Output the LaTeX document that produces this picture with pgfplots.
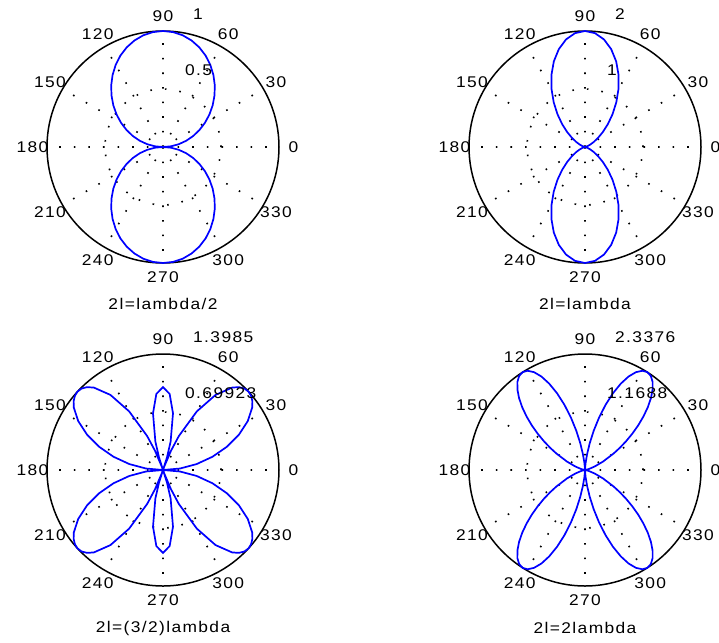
\documentclass[border=0pt]{standalone}
\usepackage{fontspec}
\setmainfont{Liberation Sans}[FakeStretch=1.12,LetterSpace=9]
\usepackage{pgfplots}
\pgfplotsset{compat=1.18}
\usepgfplotslibrary{polar}
\newcommand{\lbl}{\fontsize{15.5bp}{18bp}\selectfont}
\pgfplotsset{mpolar/.style={
  scale only axis, width=232bp, height=232bp,
  anchor=center,
  xmin=0, xmax=360, ymin=0,
  xtick={0,30,...,330}, xticklabels={},
  yticklabels={},
  grid=major,
  major grid style={black, line width=1.6bp, dash pattern=on 1.6bp off 13bp},
  separate axis lines,
  x axis line style={black, line width=1.5bp},
  y axis line style={draw=none},
  major tick length=0pt,
  clip=false,
}}
\newcommand{\anglabels}[1]{\pgfplotsinvokeforeach{0,30,...,330}{\node[font=\lbl, inner sep=0pt] at (axis cs:##1,#1) {##1};}}
\newcommand{\ringlabels}[2]{%
  \node[font=\lbl, anchor=west, inner sep=0pt] at ([xshift=30bp,yshift=133bp]axis cs:0,0) {#1};
  \node[font=\lbl, anchor=west, inner sep=0pt] at ([xshift=22bp,yshift=77bp]axis cs:0,0) {#2};}
\begin{document}
\begin{tikzpicture}
\path[use as bounding box] (0,0) rectangle (719bp,-643bp);
% plot 1
\begin{polaraxis}[mpolar, at={(163bp,-147bp)}, ymax=1, ytick={0.5}]
\addplot[blue, line width=1.7bp] coordinates {(0,0)(5,0.0686)(10,0.1374)(15,0.2067)(20,0.2766)(25,0.3470)(30,0.4178)(35,0.4887)(40,0.5590)(45,0.6279)(50,0.6946)(55,0.7578)(60,0.8165)(65,0.8693)(70,0.9143)(75,0.9507)(80,0.9779)(85,0.9944)(90,1.0000)
(95,0.9944)(100,0.9779)(105,0.9507)(110,0.9143)(115,0.8693)(120,0.8165)(125,0.7578)(130,0.6946)(135,0.6279)(140,0.5590)(145,0.4887)(150,0.4178)(155,0.3470)(160,0.2766)(165,0.2067)(170,0.1374)(175,0.0686)(180,0)
(185,0.0686)(190,0.1374)(195,0.2067)(200,0.2766)(205,0.3470)(210,0.4178)(215,0.4887)(220,0.5590)(225,0.6279)(230,0.6946)(235,0.7578)(240,0.8165)(245,0.8693)(250,0.9143)(255,0.9507)(260,0.9779)(265,0.9944)(270,1.0000)
(275,0.9944)(280,0.9779)(285,0.9507)(290,0.9143)(295,0.8693)(300,0.8165)(305,0.7578)(310,0.6946)(315,0.6279)(320,0.5590)(325,0.4887)(330,0.4178)(335,0.3470)(340,0.2766)(345,0.2067)(350,0.1374)(355,0.0686)(360,0)};
\anglabels{1.125}
\ringlabels{1}{0.5}
\end{polaraxis}
% plot 2
\begin{polaraxis}[mpolar, at={(585bp,-147bp)}, ymax=2, ytick={1}]
\addplot[blue, line width=1.7bp] coordinates {(0,0)(5,0.0008)(10,0.0066)(15,0.0221)(20,0.0523)(25,0.1018)(30,0.1746)(35,0.2739)(40,0.4017)(45,0.5576)(50,0.7391)(55,0.9409)(60,1.1547)(65,1.3699)(70,1.5711)(75,1.7459)(80,1.8834)(85,1.9703)(90,2)
(95,1.9703)(100,1.8834)(105,1.7459)(110,1.5711)(115,1.3699)(120,1.1547)(125,0.9409)(130,0.7391)(135,0.5576)(140,0.4017)(145,0.2739)(150,0.1746)(155,0.1018)(160,0.0523)(165,0.0221)(170,0.0066)(175,0.0008)(180,0)
(185,0.0008)(190,0.0066)(195,0.0221)(200,0.0523)(205,0.1018)(210,0.1746)(215,0.2739)(220,0.4017)(225,0.5576)(230,0.7391)(235,0.9409)(240,1.1547)(245,1.3699)(250,1.5711)(255,1.7459)(260,1.8834)(265,1.9703)(270,2)
(275,1.9703)(280,1.8834)(285,1.7459)(290,1.5711)(295,1.3699)(300,1.1547)(305,0.9409)(310,0.7391)(315,0.5576)(320,0.4017)(325,0.2739)(330,0.1746)(335,0.1018)(340,0.0523)(345,0.0221)(350,0.0066)(355,0.0008)(360,0)};
\anglabels{2.25}
\ringlabels{2}{1}
\end{polaraxis}
% plot 3
\begin{polaraxis}[mpolar, at={(163bp,-470bp)}, ymax=1.3985, ytick={0.69923}]
\addplot[blue, line width=1.7bp] coordinates {(0,0)(5,0.2060)(10,0.4119)(15,0.6177)(20,0.8198)(25,1.0111)(30,1.1805)(35,1.3125)(37.5,1.3584)(40,1.3881)(42.5,1.3990)(45,1.3885)(47.5,1.3551)(50,1.2972)(55,1.1053)(60,0.8165)(65,0.4507)(67.5,0.2494)(70,0.0435)(70.53,0)(72.5,0.1605)(75,0.3561)(80,0.6940)(85,0.9203)(90,1)
(95,0.9203)(100,0.6940)(105,0.3561)(107.5,0.1605)(109.47,0)(110,0.0435)(112.5,0.2494)(115,0.4507)(120,0.8165)(125,1.1053)(130,1.2972)(132.5,1.3551)(135,1.3885)(137.5,1.3990)(140,1.3881)(142.5,1.3584)(145,1.3125)(150,1.1805)(155,1.0111)(160,0.8198)(165,0.6177)(170,0.4119)(175,0.2060)(180,0)
(185,0.2060)(190,0.4119)(195,0.6177)(200,0.8198)(205,1.0111)(210,1.1805)(215,1.3125)(217.5,1.3584)(220,1.3881)(222.5,1.3990)(225,1.3885)(227.5,1.3551)(230,1.2972)(235,1.1053)(240,0.8165)(245,0.4507)(247.5,0.2494)(250,0.0435)(250.53,0)(252.5,0.1605)(255,0.3561)(260,0.6940)(265,0.9203)(270,1)
(275,0.9203)(280,0.6940)(285,0.3561)(287.5,0.1605)(289.47,0)(290,0.0435)(292.5,0.2494)(295,0.4507)(300,0.8165)(305,1.1053)(310,1.2972)(312.5,1.3551)(315,1.3885)(317.5,1.3990)(320,1.3881)(322.5,1.3584)(325,1.3125)(330,1.1805)(335,1.0111)(340,0.8198)(345,0.6177)(350,0.4119)(355,0.2060)(360,0)};
\anglabels{1.5733}
\ringlabels{1.3985}{0.69923}
\end{polaraxis}
% plot 4
\begin{polaraxis}[mpolar, at={(585bp,-470bp)}, ymax=2.3376, ytick={1.1688}]
\addplot[blue, line width=1.7bp] coordinates {(0,0)(5,0.0033)(10,0.0262)(15,0.0882)(20,0.2074)(25,0.3983)(30,0.6677)(32.5,0.8309)(35,1.0097)(37.5,1.2009)(40,1.3995)(42.5,1.5978)(45,1.7907)(47.5,1.9674)(50,2.1191)(52.5,2.2382)(55,2.3131)(57.5,2.3390)(60,2.3094)(62.5,2.2224)(65,2.0795)(67.5,1.8831)(70,1.6448)(72.5,1.3770)(75,1.0925)(77.5,0.8097)(80,0.5467)(82.5,0.3206)(85,0.1468)(87.5,0.0374)(90,0)
(92.5,0.0374)(95,0.1468)(97.5,0.3206)(100,0.5467)(102.5,0.8097)(105,1.0925)(107.5,1.3770)(110,1.6448)(112.5,1.8831)(115,2.0795)(117.5,2.2224)(120,2.3094)(122.5,2.3390)(125,2.3131)(127.5,2.2382)(130,2.1191)(132.5,1.9674)(135,1.7907)(137.5,1.5978)(140,1.3995)(142.5,1.2009)(145,1.0097)(147.5,0.8309)(150,0.6677)(155,0.3983)(160,0.2074)(165,0.0882)(170,0.0262)(175,0.0033)(180,0)
(185,0.0033)(190,0.0262)(195,0.0882)(200,0.2074)(205,0.3983)(210,0.6677)(212.5,0.8309)(215,1.0097)(217.5,1.2009)(220,1.3995)(222.5,1.5978)(225,1.7907)(227.5,1.9674)(230,2.1191)(232.5,2.2382)(235,2.3131)(237.5,2.3390)(240,2.3094)(242.5,2.2224)(245,2.0795)(247.5,1.8831)(250,1.6448)(252.5,1.3770)(255,1.0925)(257.5,0.8097)(260,0.5467)(262.5,0.3206)(265,0.1468)(267.5,0.0374)(270,0)
(272.5,0.0374)(275,0.1468)(277.5,0.3206)(280,0.5467)(282.5,0.8097)(285,1.0925)(287.5,1.3770)(290,1.6448)(292.5,1.8831)(295,2.0795)(297.5,2.2224)(300,2.3094)(302.5,2.3390)(305,2.3131)(307.5,2.2382)(310,2.1191)(312.5,1.9674)(315,1.7907)(317.5,1.5978)(320,1.3995)(322.5,1.2009)(325,1.0097)(327.5,0.8309)(330,0.6677)(335,0.3983)(340,0.2074)(345,0.0882)(350,0.0262)(355,0.0033)(360,0)};
\anglabels{2.6298}
\ringlabels{2.3376}{1.1688}
\end{polaraxis}
\node[font=\lbl] at (163bp,-304bp) {2l=lambda/2};
\node[font=\lbl] at (585bp,-304bp) {2l=lambda};
\node[font=\lbl] at (163bp,-628bp) {2l=(3/2)lambda};
\node[font=\lbl] at (585bp,-628bp) {2l=2lambda};
\end{tikzpicture}
\end{document}
